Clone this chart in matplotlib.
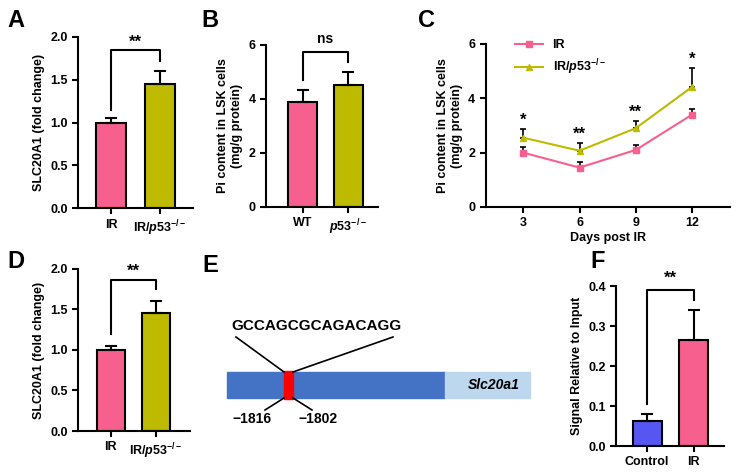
import matplotlib
matplotlib.use('Agg')
import matplotlib.pyplot as plt
from matplotlib.patches import Rectangle

plt.rcParams['font.family'] = ['Liberation Sans', 'DejaVu Sans']
plt.rcParams['font.weight'] = 'bold'
plt.rcParams['mathtext.fontset'] = 'custom'
plt.rcParams['mathtext.rm'] = 'Liberation Sans:bold'
plt.rcParams['mathtext.it'] = 'Liberation Sans:italic:bold'
plt.rcParams['mathtext.bf'] = 'Liberation Sans:bold'
plt.rcParams['axes.linewidth'] = 1.5

pink = '#F7608E'
olive = '#BDBA00'
blue = '#5656F2'

P53 = r'$\it{p53}^{-/-}$'

# --- data ---
a_labels = ['IR', 'IR/' + P53]
a_means = [1.0, 1.45]
a_errs = [0.05, 0.15]

b_labels = ['WT', P53]
b_means = [3.9, 4.5]
b_errs = [0.42, 0.48]

c_days = [3, 6, 9, 12]
c_ir = [2.0, 1.45, 2.1, 3.4]
c_ir_err = [0.22, 0.22, 0.17, 0.22]
c_p53 = [2.55, 2.07, 2.9, 4.42]
c_p53_err = [0.32, 0.28, 0.27, 0.68]
c_stars = ['*', '**', '**', '*']

d_labels = ['IR', 'IR/' + P53]
d_means = [1.0, 1.45]
d_errs = [0.05, 0.15]

f_labels = ['Control', 'IR']
f_means = [0.063, 0.265]
f_errs = [0.017, 0.074]

seq = 'GCCAGCGCAGACAGG'
site = ['\u22121816', '\u22121802']

fig = plt.figure(figsize=(7.37, 4.74), dpi=100)


def bar_panel(rect, labels, means, errs, colors, ylim, yticks, ylabel, xlim,
              bracket, sig, fmt):
    ax = fig.add_axes(rect)
    x = range(len(means))
    ax.bar(x, means, width=0.62, color=colors, edgecolor='black', linewidth=1.5, zorder=2)
    ax.errorbar(x, means, yerr=[[0] * len(errs), errs], fmt='none', ecolor='black',
                elinewidth=1.5, capsize=4, capthick=1.5, zorder=3)
    ax.set_xlim(*xlim)
    ax.set_ylim(*ylim)
    ax.set_yticks(yticks)
    ax.set_yticklabels([fmt.format(t) for t in yticks])
    ax.set_xticks(list(x))
    ax.set_xticklabels(labels)
    ax.spines['top'].set_visible(False)
    ax.spines['right'].set_visible(False)
    ax.tick_params(width=1.5, length=4, labelsize=9)
    ax.set_ylabel(ylabel, fontsize=9, fontweight='bold')
    top, l_end, r_end, sy = bracket
    ax.plot([0, 0, 1, 1], [l_end, top, top, r_end], color='black', lw=1.5, clip_on=False)
    ax.text(0.5, sy, sig, ha='center', va='bottom', fontsize=12 if '*' in sig else 10,
            fontweight='bold', clip_on=False)
    return ax


# A
bar_panel([0.106, 0.561, 0.156, 0.361], a_labels, a_means, a_errs, [pink, olive],
          (0, 2.0), [0, 0.5, 1.0, 1.5, 2.0], 'SLC20A1 (fold change)', (-0.68, 1.68),
          (1.85, 1.15, 1.72, 1.85), '**', '{:.1f}')
# B
bar_panel([0.361, 0.5633, 0.152, 0.342], b_labels, b_means, b_errs, [pink, olive],
          (0, 6), [0, 2, 4, 6], 'Pi content in LSK cells\n(mg/g protein)', (-0.8, 1.65),
          (5.75, 4.7, 5.38, 5.95), 'ns', '{:d}')
# D
bar_panel([0.106, 0.0907, 0.152, 0.342], d_labels, d_means, d_errs, [pink, olive],
          (0, 2.0), [0, 0.5, 1.0, 1.5, 2.0], 'SLC20A1 (fold change)', (-0.72, 1.75),
          (1.86, 1.2, 1.75, 1.88), '**', '{:.1f}')
# F
bar_panel([0.836, 0.059, 0.1465, 0.3376], f_labels, f_means, f_errs, [blue, pink],
          (0, 0.4), [0, 0.1, 0.2, 0.3, 0.4], 'Signal Relative to Input', (-0.67, 1.66),
          (0.39, 0.105, 0.365, 0.4), '**', '{:.1f}')

# C
axc = fig.add_axes([0.659, 0.5633, 0.331, 0.344])
for ys, es, col, mk, lab in [(c_ir, c_ir_err, pink, 's', 'IR'),
                             (c_p53, c_p53_err, olive, '^', 'IR/' + P53)]:
    axc.errorbar(c_days, ys, yerr=[[0] * 4, es], fmt='none', ecolor='black',
                 elinewidth=1.2, capsize=2.5, capthick=1.2)
    axc.plot(c_days, ys, color=col, marker=mk, ms=4, lw=1.5, label=lab)
for d, m, e, s in zip(c_days, c_p53, c_p53_err, c_stars):
    axc.text(d, m + e + 0.05, s, ha='center', va='bottom', fontsize=12, fontweight='bold')
axc.set_xlim(1, 14)
axc.set_ylim(0, 6)
axc.set_xticks(c_days)
axc.set_yticks([0, 2, 4, 6])
axc.spines['top'].set_visible(False)
axc.spines['right'].set_visible(False)
axc.tick_params(width=1.5, length=4, labelsize=9)
axc.set_xlabel('Days post IR', fontsize=9, fontweight='bold', labelpad=2)
axc.set_ylabel('Pi content in LSK cells\n(mg/g protein)', fontsize=9, fontweight='bold')
axc.legend(loc='upper left', bbox_to_anchor=(0.1, 1.06), frameon=False,
           fontsize=9, handlelength=2.2, borderaxespad=0, labelspacing=0.5)

# E: promoter diagram
axe = fig.add_axes([0, 0, 1, 1])
axe.set_xlim(0, 737)
axe.set_ylim(474, 0)
axe.axis('off')
axe.add_patch(Rectangle((227, 372), 218, 26, color='#4472C4'))
axe.add_patch(Rectangle((445, 372), 85, 26, color='#BDD7EE'))
axe.add_patch(Rectangle((284, 371), 9, 28, color='#FF0000'))
axe.text(494, 385, 'Slc20a1', style='italic', fontweight='bold', fontsize=10,
         ha='center', va='center')
axe.plot([284, 236], [372, 337], color='black', lw=1.2)
axe.plot([293, 393], [372, 337], color='black', lw=1.2)
axe.plot([284, 265], [398, 410], color='black', lw=1.2)
axe.plot([293, 312], [398, 410], color='black', lw=1.2)
axe.text(317, 326, seq, ha='center', va='center', fontsize=11, fontweight='bold')
axe.text(252, 419, site[0], ha='center', va='center', fontsize=10, fontweight='bold')
axe.text(318, 419, site[1], ha='center', va='center', fontsize=10, fontweight='bold')

for lab, x, y in [('A', 16, 20), ('B', 210, 20), ('C', 427, 20),
                  ('D', 16, 262), ('E', 210, 265), ('F', 598, 262)]:
    axe.text(x, y, lab, fontsize=17, fontweight='bold', ha='center', va='center')

fig.savefig('out.png', dpi=100)
